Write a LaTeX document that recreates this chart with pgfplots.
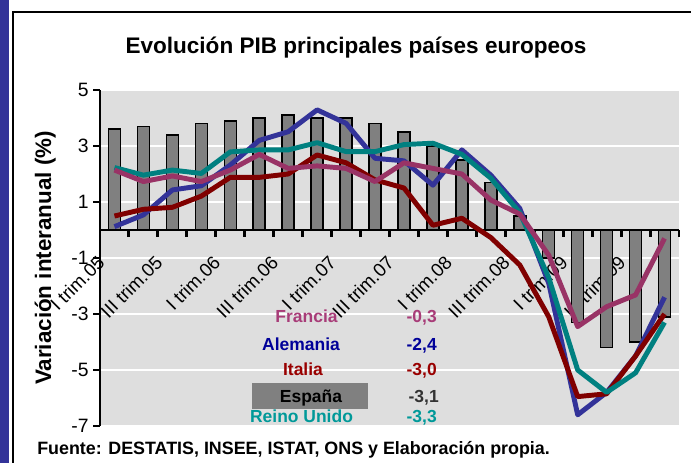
\documentclass[border=0pt]{standalone}
\usepackage{pgfplots}
\pgfplotsset{compat=1.18}
\usepackage{pgfplotstable}
\usepackage{fontspec}
\setmainfont{Liberation Sans}
\definecolor{bgray}{HTML}{DEDEDE}
\definecolor{ale}{HTML}{333399}
\definecolor{fra}{HTML}{993366}
\definecolor{ita}{HTML}{800000}
\definecolor{ruk}{HTML}{008080}
\definecolor{esp}{HTML}{808080}
\definecolor{framec}{HTML}{333399}
\definecolor{fratxt}{HTML}{A83C78}
\definecolor{aletxt}{HTML}{000099}
\definecolor{itatxt}{HTML}{990000}
\definecolor{ruktxt}{HTML}{009999}

\pgfplotstableread{
x esp ale fra ita ruk
0 3.6 0.12 2.14 0.50 2.23
1 3.7 0.54 1.73 0.74 1.96
2 3.4 1.43 1.93 0.81 2.14
3 3.8 1.58 1.73 1.21 2.02
4 3.9 2.32 2.14 1.88 2.79
5 4.0 3.20 2.70 1.88 2.86
6 4.1 3.51 2.20 2.00 2.86
7 4.0 4.29 2.29 2.68 3.12
8 4.0 3.81 2.20 2.40 2.80
9 3.8 2.56 1.73 1.79 2.80
10 3.5 2.47 2.40 1.50 3.05
11 3.0 1.60 2.20 0.17 3.10
12 2.5 2.86 2.00 0.42 2.70
13 1.7 1.96 1.07 -0.27 1.85
14 0.5 0.77 0.57 -1.25 0.62
15 -1.0 -1.90 -0.90 -3.10 -1.70
16 -3.3 -6.60 -3.45 -5.95 -5.00
17 -4.2 -5.80 -2.74 -5.85 -5.80
18 -4.0 -4.50 -2.32 -4.50 -5.10
19 -3.1 -2.40 -0.30 -3.00 -3.30
}\data

\begin{document}
\begin{tikzpicture}[x=0.75pt,y=0.75pt]
\path[use as bounding box] (0,0) rectangle (691,463);
\fill[framec] (0,0) rectangle (9,463);
\draw[line width=0.9pt] (13,0) -- (13,451) -- (691,451);
\begin{axis}[
  at={(75pt,27.75pt)}, anchor=south west,
  width=434.25pt, height=252pt, scale only axis,
  xmin=-0.5, xmax=19.5, ymin=-7, ymax=5,
  axis background/.style={fill=bgray},
  axis x line=middle, axis y line=left,
  axis line style={-, line width=2.2pt, black},
  tick align=outside,
  major tick length=5pt, minor tick length=5pt,
  ytick={-7,-5,-3,-1,1,3,5},
  yticklabels={-7,-5,-3,-1,1,3,5},
  yticklabel style={font=\fontsize{14.5}{14.5}\selectfont},
  y tick style={black, line width=2.2pt},
  ymajorgrids=true,
  y grid style={white, line width=1.1pt},
  xtick={0,2,...,18},
  xticklabels={I trim.05, III trim.05, I trim.06, III trim.06, I trim.07, III trim.07, I trim.08, III trim.08, I trim.09, III trim.09},
  major x tick style={draw=none},
  minor xtick={-0.5,0.5,...,19.5},
  minor x tick style={black, line width=2.2pt},
  xticklabel style={font=\fontsize{14}{14}\selectfont, inner sep=0pt, xshift=-13.75pt, yshift=-13.15pt, rotate=45, anchor=north east},
  ylabel={Variación interanual (\%)},
  every axis y label/.style={at={(rel axis cs:0,0.5)}, xshift=-41pt, rotate=90, anchor=center, font=\fontsize{16.8}{16.8}\selectfont\bfseries},
  clip=false,
]
\addplot[ybar, bar width=9pt, fill=esp, draw=black, line width=1.1pt] table[x=x,y=esp]{\data};
\draw[line width=2.2pt] (axis cs:-0.5,0) -- (axis cs:19.5,0);
\addplot[ale, line width=3.7pt, line join=round, mark=none] table[x=x,y=ale]{\data};
\addplot[ita, line width=3.7pt, line join=round, mark=none] table[x=x,y=ita]{\data};
\addplot[ruk, line width=3.7pt, line join=round, mark=none] table[x=x,y=ruk]{\data};
\addplot[fra, line width=3.7pt, line join=round, mark=none] table[x=x,y=fra]{\data};
\end{axis}
\node[font=\fontsize{16.9}{16.9}\selectfont\bfseries, anchor=base] at (356,409) {Evolución PIB principales países europeos};
\node[font=\fontsize{13.4}{13.4}\selectfont\bfseries, anchor=base west, inner sep=0pt] at (37,8) {Fuente: DESTATIS, INSEE, ISTAT, ONS y Elaboración propia.};
\fill[esp] (252,54) rectangle (368,80);
\begin{scope}[font=\fontsize{13.1}{13.1}\selectfont\bfseries]
\node[fratxt, anchor=base] at (306.5,140) {Francia};
\node[aletxt, anchor=base] at (301,112) {Alemania};
\node[itatxt, anchor=base] at (303,87) {Italia};
\node[black, anchor=base] at (311,60) {España};
\node[ruktxt, anchor=base] at (301.5,40) {Reino Unido};
\node[fratxt, anchor=base east, inner sep=0pt] at (437,140) {-0,3};
\node[aletxt, anchor=base east, inner sep=0pt] at (437,112) {-2,4};
\node[itatxt, anchor=base east, inner sep=0pt] at (437,87) {-3,0};
\node[black!80, anchor=base east, inner sep=0pt] at (439,60) {-3,1};
\node[ruktxt, anchor=base east, inner sep=0pt] at (437,40) {-3,3};
\end{scope}
\end{tikzpicture}
\end{document}
